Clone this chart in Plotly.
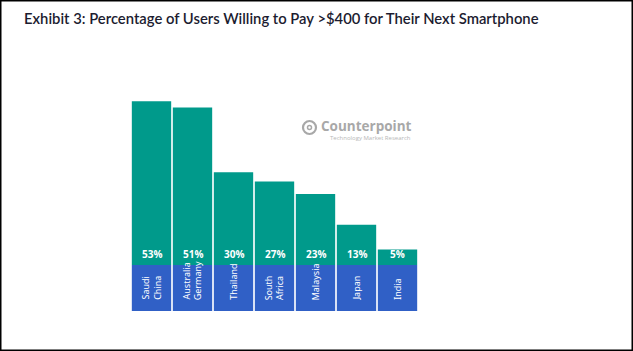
import plotly.graph_objects as go

categories = ["Saudi<br>China", "Australia<br>Germany", "Thailand", "South<br>Africa", "Malaysia", "Japan", "India"]
values = [53, 51, 30, 27, 23, 13, 5]
value_labels = ["53%", "51%", "30%", "27%", "23%", "13%", "5%"]

W, H = 633, 351
TEAL = "#009a8b"
BLUE = "#3060c6"
LABEL_BAND = 14.9  # depth of the country-label band below baseline (in % units)
Y_TOP = 55

x_idx = list(range(len(categories)))

fig = go.Figure()
fig.add_trace(go.Bar(x=x_idx, y=[LABEL_BAND] * len(categories), base=[-LABEL_BAND] * len(categories),
                     marker=dict(color=BLUE, line=dict(width=0)), hoverinfo="skip"))
fig.add_trace(go.Bar(x=x_idx, y=values, base=[0] * len(values),
                     marker=dict(color=TEAL, line=dict(width=0)), hoverinfo="skip"))

for i, (c, v) in enumerate(zip(categories, value_labels)):
    fig.add_annotation(x=i, y=0, text="<b>%s</b>" % v, showarrow=False, yanchor="bottom", yshift=2,
                       font=dict(family="Open Sans", size=10, color="white"))
    fig.add_annotation(x=i, y=-12.1, text=c, showarrow=False, yanchor="bottom", textangle=-90,
                       font=dict(family="Noto Sans", size=9, color="white"))

# title
fig.add_annotation(xref="paper", yref="paper", x=22 / W, y=1 - 18 / H, xanchor="left", yanchor="middle",
                   text="Exhibit 3: Percentage of Users Willing to Pay >$400 for Their Next Smartphone",
                   showarrow=False, font=dict(family="Lato", size=14.8, color="#1c1c30", weight=600))

# watermark
fig.add_annotation(xref="paper", yref="paper", x=319 / W, y=1 - 126 / H, xanchor="left", yanchor="middle",
                   text="<b>Counterpoint</b>", showarrow=False,
                   font=dict(family="Open Sans", size=13.5, color="#a8a8a8"))
fig.add_annotation(xref="paper", yref="paper", x=328 / W, y=1 - 137.5 / H, xanchor="left", yanchor="middle",
                   text="Technology Market Research", showarrow=False,
                   font=dict(family="Open Sans", size=6, color="#b8b8b8"))
fig.add_shape(type="circle", xref="paper", yref="paper", x0=303 / W, x1=316 / W, y0=1 - 134 / H, y1=1 - 121 / H,
              line=dict(color="#a8a8a8", width=2.2))
fig.add_shape(type="circle", xref="paper", yref="paper", x0=307.5 / W, x1=311.5 / W, y0=1 - 129.5 / H, y1=1 - 125.5 / H,
              line=dict(color="#a8a8a8", width=1.5))

# frame
fig.add_shape(type="rect", xref="paper", yref="paper", x0=0, x1=1, y0=0, y1=1,
              line=dict(color="black", width=3))

fig.update_layout(
    width=W, height=H,
    margin=dict(l=0, r=0, t=0, b=0),
    paper_bgcolor="white", plot_bgcolor="white",
    barmode="overlay", bargap=0.04, showlegend=False,
    xaxis=dict(domain=[131 / W, 418 / W], range=[-0.5, len(categories) - 0.5],
               showticklabels=False, showgrid=False, zeroline=False, fixedrange=True),
    yaxis=dict(domain=[1 - 311 / H, 1 - 95.05 / H], range=[-LABEL_BAND, Y_TOP],
               showticklabels=False, showgrid=False, zeroline=False, fixedrange=True),
)

fig.write_html("out.html", config={"displayModeBar": False})
